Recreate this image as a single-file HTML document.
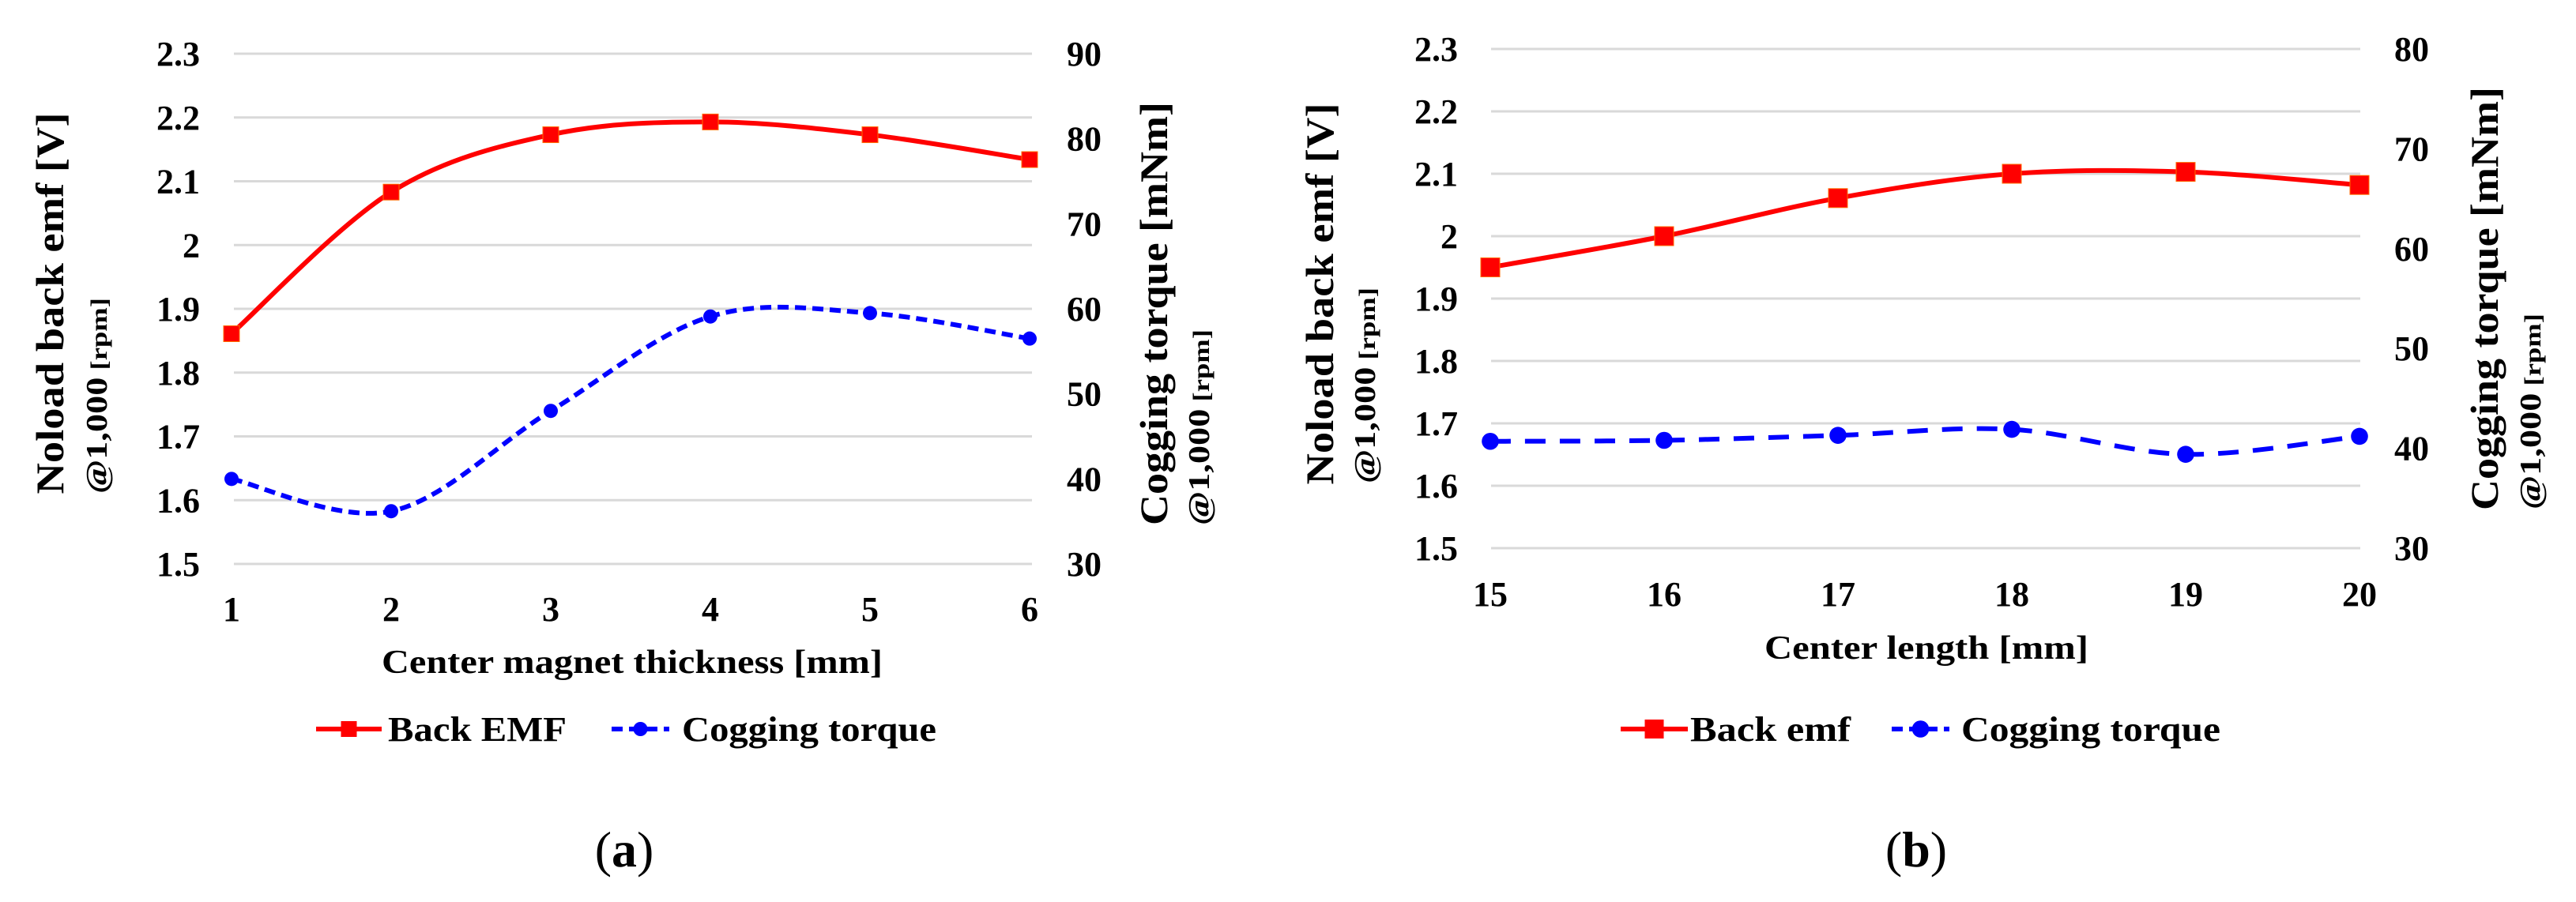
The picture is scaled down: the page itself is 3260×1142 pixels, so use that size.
<!DOCTYPE html>
<html><head><meta charset="utf-8"><style>
html,body{margin:0;padding:0;background:#fff;}
svg{display:block;}
text{font-family:"Liberation Serif",serif;font-weight:bold;fill:#000;}
</style></head><body>
<svg id="fig" width="3260" height="1142" viewBox="0 0 3260 1142" xmlns="http://www.w3.org/2000/svg">
<g id="chartA"></g>
<g id="chartB"></g>
<text x="790" y="1097" font-size="64" text-anchor="middle" style="font-weight:normal">(<tspan font-weight="bold">a</tspan>)</text>
<text x="2425" y="1097" font-size="64" text-anchor="middle" style="font-weight:normal">(<tspan font-weight="bold">b</tspan>)</text>
</svg>
<script>
// Chart (a) data
const catsA = [1, 2, 3, 4, 5, 6];
const emfA = [1.861, 2.083, 2.173, 2.193, 2.173, 2.134];
const torqueA = [40.0, 36.2, 48.0, 59.1, 59.5, 56.5];
const leftTicksA = ["2.3","2.2","2.1","2","1.9","1.8","1.7","1.6","1.5"];
const rightTicksA = ["90","80","70","60","50","40","30"];
// Chart (b) data
const catsB = [15, 16, 17, 18, 19, 20];
const emfB = [1.95, 2.00, 2.061, 2.10, 2.103, 2.082];
const torqueB = [40.7, 40.8, 41.3, 41.9, 39.4, 41.2];
const leftTicksB = ["2.3","2.2","2.1","2","1.9","1.8","1.7","1.6","1.5"];
const rightTicksB = ["80","70","60","50","40","30"];

const NS = "http://www.w3.org/2000/svg";
function mk(parent, tag, attrs, txt) {
  const e = document.createElementNS(NS, tag);
  for (const k in attrs) e.setAttribute(k, attrs[k]);
  if (txt !== undefined) e.textContent = txt;
  parent.appendChild(e);
  return e;
}
function smoothPath(pts) {
  let d = "M" + pts[0][0] + "," + pts[0][1];
  const t = 1/6;
  for (let i = 0; i < pts.length - 1; i++) {
    const p0 = pts[Math.max(0, i - 1)], p1 = pts[i], p2 = pts[i + 1], p3 = pts[Math.min(pts.length - 1, i + 2)];
    const c1 = [p1[0] + (p2[0] - p0[0]) * t, p1[1] + (p2[1] - p0[1]) * t];
    const c2 = [p2[0] - (p3[0] - p1[0]) * t, p2[1] - (p3[1] - p1[1]) * t];
    d += " C" + c1[0] + "," + c1[1] + " " + c2[0] + "," + c2[1] + " " + p2[0] + "," + p2[1];
  }
  return d;
}

function drawChart(g, cfg) {
  const xs = v => cfg.x0 + (v - cfg.cats[0]) / (cfg.cats[cfg.cats.length - 1] - cfg.cats[0]) * (cfg.x1 - cfg.x0);
  const yL = v => cfg.yTop + (cfg.lMax - v) / (cfg.lMax - cfg.lMin) * (cfg.yBot - cfg.yTop);
  const yR = v => cfg.yTop + (cfg.rMax - v) / (cfg.rMax - cfg.rMin) * (cfg.yBot - cfg.yTop);
  // gridlines + left ticks
  cfg.leftTicks.forEach(t => {
    const y = yL(parseFloat(t));
    const gl = mk(g, "line", {x1: cfg.gx0, x2: cfg.gx1, y1: y, y2: y, stroke: "#d9d9d9", "stroke-width": 3});
    
    
    const tx = mk(g, "text", {x: cfg.lTickX, y: y + 15, "font-size": 44, "text-anchor": "end"}, t);
    
    
  });
  cfg.rightTicks.forEach(t => {
    const y = yR(parseFloat(t));
    const tx = mk(g, "text", {x: cfg.rTickX, y: y + 15, "font-size": 44, "text-anchor": "start"}, t);
    
    
  });
  cfg.cats.forEach(c => {
    const tx = mk(g, "text", {x: xs(c), y: cfg.xTickY + 15, "font-size": 44, "text-anchor": "middle"}, String(c));
    
    
  });
  // series
  const ptsE = cfg.cats.map((c, i) => [xs(c), yL(cfg.emf[i])]);
  const ptsT = cfg.cats.map((c, i) => [xs(c), yR(cfg.torque[i])]);
  const le = mk(g, "path", {d: smoothPath(ptsE), fill: "none", stroke: "#ff0000", "stroke-width": cfg.lw});
  
  
  const lt = mk(g, "path", {d: smoothPath(ptsT), fill: "none", stroke: "#0000ff", "stroke-width": cfg.lw, "stroke-dasharray": cfg.dash});
  
  
  ptsE.forEach(p => {
    const r = mk(g, "rect", {x: p[0] - cfg.ms / 2, y: p[1] - cfg.ms / 2, width: cfg.ms, height: cfg.ms, fill: "#ff0000", stroke: "#ff6a00", "stroke-width": 1});
    
    
  });
  ptsT.forEach(p => {
    const c = mk(g, "circle", {cx: p[0], cy: p[1], r: cfg.ms * 0.45, fill: "#0000ff"});
    
    
  });
  // axis titles
  const xt = mk(g, "text", {x: cfg.xTitleX, y: cfg.xTitleY + 14, "font-size": 42, "text-anchor": "middle", textLength: cfg.xTitleLen, lengthAdjust: "spacingAndGlyphs"}, cfg.xTitle);
  
  
  const yt = mk(g, "text", {transform: "translate(" + (cfg.ltX + 17) + "," + cfg.ltY + ") rotate(-90)", "font-size": 50, "text-anchor": "middle", textLength: 483, lengthAdjust: "spacingAndGlyphs"}, "Noload back emf [V]");
  
  
  const ys = mk(g, "text", {transform: "translate(" + (cfg.lsX + 13) + "," + cfg.lsY + ") rotate(-90)", "font-size": 38, "text-anchor": "middle", textLength: 248, lengthAdjust: "spacingAndGlyphs"});
  
  
  mk(ys, "tspan", {}, "@1,000");
  mk(ys, "tspan", {"font-size": 30}, " [rpm]");
  const rt = mk(g, "text", {transform: "translate(" + (cfg.rtX + 17) + "," + cfg.rtY + ") rotate(-90)", "font-size": 50, "text-anchor": "middle", textLength: 536, lengthAdjust: "spacingAndGlyphs"}, "Cogging torque [mNm]");
  
  
  const rs = mk(g, "text", {transform: "translate(" + (cfg.rsX + 13) + "," + cfg.rsY + ") rotate(-90)", "font-size": 38, "text-anchor": "middle", textLength: 248, lengthAdjust: "spacingAndGlyphs"});
  
  
  mk(rs, "tspan", {}, "@1,000");
  mk(rs, "tspan", {"font-size": 30}, " [rpm]");
  // legend
  const L = cfg.leg, ly = cfg.legY;
  const lg = mk(g, "g", {});
  
  
  const e1 = mk(lg, "g", {});
  
  
  mk(e1, "line", {x1: L[0], x2: L[1], y1: ly, y2: ly, stroke: "#ff0000", "stroke-width": cfg.lw});
  mk(e1, "rect", {x: (L[0] + L[1]) / 2 - cfg.ms / 2, y: ly - cfg.ms / 2, width: cfg.ms, height: cfg.ms, fill: "#ff0000"});
  mk(e1, "text", {x: L[2], y: ly + 15, "font-size": 44, textLength: L[3] - L[2], lengthAdjust: "spacingAndGlyphs"}, cfg.emfName);
  const e2 = mk(lg, "g", {});
  
  
  mk(e2, "line", {x1: L[4], x2: L[5], y1: ly, y2: ly, stroke: "#0000ff", "stroke-width": cfg.lw, "stroke-dasharray": "14,8"});
  mk(e2, "circle", {cx: (L[4] + L[5]) / 2, cy: ly, r: cfg.ms * 0.45, fill: "#0000ff"});
  mk(e2, "text", {x: L[6], y: ly + 15, "font-size": 44, textLength: L[7] - L[6], lengthAdjust: "spacingAndGlyphs"}, "Cogging torque");
}

drawChart(document.getElementById("chartA"), {
  cats: catsA, emf: emfA, torque: torqueA, leftTicks: leftTicksA, rightTicks: rightTicksA,
  x0: 293, x1: 1303, gx0: 296, gx1: 1306, yTop: 68, yBot: 714,
  lMax: 2.3, lMin: 1.5, rMax: 90, rMin: 30,
  lTickX: 253, rTickX: 1350, xTickY: 771, lw: 6, ms: 20, dash: "14,8",
  xTitle: "Center magnet thickness [mm]", xTitleX: 800, xTitleY: 838, xTitleLen: 634,
  ltX: 63, ltY: 384, lsX: 122, lsY: 501, rtX: 1460, rtY: 397, rsX: 1517, rsY: 541,
  leg: [400, 483, 491, 717, 774, 847, 863, 1185], legY: 923, emfName: "Back EMF"
});
drawChart(document.getElementById("chartB"), {
  cats: catsB, emf: emfB, torque: torqueB, leftTicks: leftTicksB, rightTicks: rightTicksB,
  x0: 1886, x1: 2986, gx0: 1887, gx1: 2987, yTop: 62, yBot: 694,
  lMax: 2.3, lMin: 1.5, rMax: 80, rMin: 30,
  lTickX: 1845, rTickX: 3030, xTickY: 752, lw: 6, ms: 24, dash: "26,18",
  xTitle: "Center length [mm]", xTitleX: 2438, xTitleY: 820, xTitleLen: 410,
  ltX: 1670, ltY: 372, lsX: 1727, lsY: 488, rtX: 3144, rtY: 378, rsX: 3202, rsY: 521,
  leg: [2051, 2136, 2139, 2342, 2394, 2467, 2482, 2810], legY: 923, emfName: "Back emf"
});
</script>
</body></html>
